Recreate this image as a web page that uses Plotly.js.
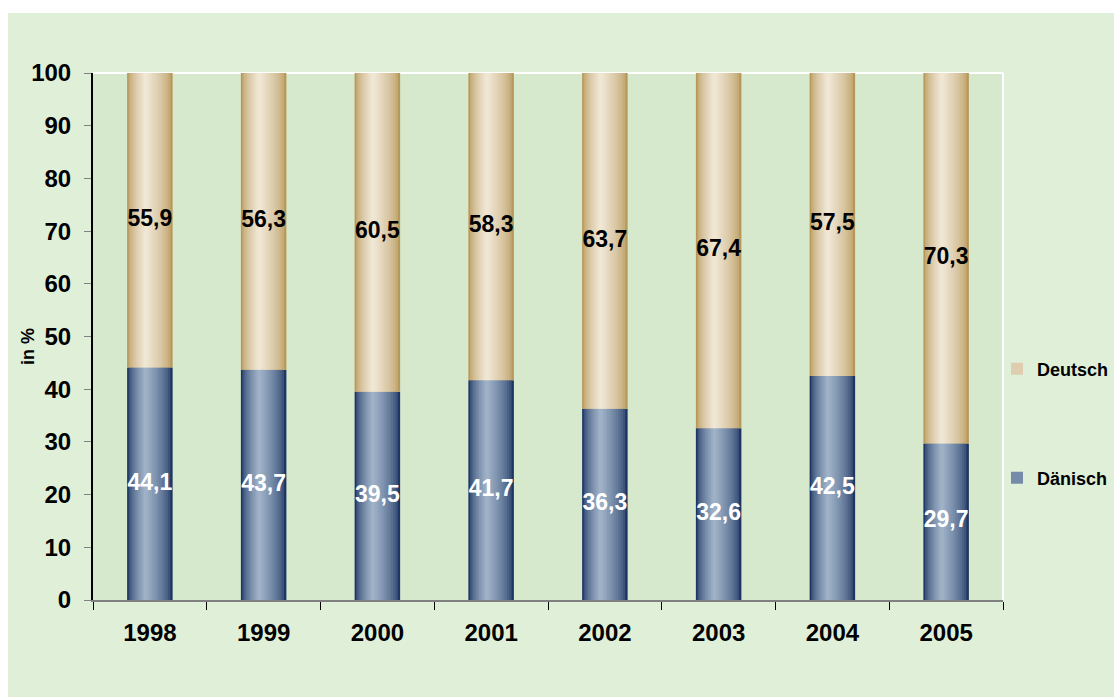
<!DOCTYPE html>
<html>
<head>
<meta charset="utf-8">
<script src="https://cdn.plot.ly/plotly-3.0.1.min.js"></script>
<style>
html,body{margin:0;padding:0;background:#ffffff;}
#chart{position:absolute;left:8px;top:13px;width:1106px;height:684px;}
</style>
</head>
<body>
<div id="chart"></div>
<script>
// ---- data ----
const years = ['1998','1999','2000','2001','2002','2003','2004','2005'];
const danisch = [44.1, 43.7, 39.5, 41.7, 36.3, 32.6, 42.5, 29.7];
const deutsch = [55.9, 56.3, 60.5, 58.3, 63.7, 67.4, 57.5, 70.3];
const yTickVals = [0,10,20,30,40,50,60,70,80,90,100];
const seriesNames = ['Dänisch', 'Deutsch'];
const yTitle = 'in %';

// ---- styling helpers ----
const FONT = 'Arial, "Liberation Sans", sans-serif';
function hex2rgb(h){h=h.replace('#','');return [parseInt(h.slice(0,2),16),parseInt(h.slice(2,4),16),parseInt(h.slice(4,6),16)];}
function mix(a,b,t){const A=hex2rgb(a),B=hex2rgb(b);return 'rgb('+A.map((v,i)=>Math.round(v+(B[i]-v)*t)).join(',')+')';}
const danDark='#1c3562', danLight='#9eb1c7';
const deuDark='#b8985a', deuLight='#efe6d4';
const fmt = v => v.toFixed(1).replace('.', ',');

const BAR_W = 0.4, K = 12, PEAK = -0.04;
const traces = [];
for (let k = 0; k < K; k++) {
  const f = k / K;
  const half = (BAR_W/2) * (1 - f);
  const center = PEAK * f;
  const t = Math.pow(k/(K-1), 0.6);
  const legendLayer = (k === 6);
  traces.push({
    type:'bar', x: years, y: danisch, base: years.map(()=>0),
    width: years.map(()=>2*half), offset: years.map(()=>center-half),
    marker:{color: mix(danDark, danLight, t), line:{width:0}},
    name: seriesNames[0], showlegend: legendLayer, legend:'legend2',
    hoverinfo:'skip'
  });
  traces.push({
    type:'bar', x: years, y: deutsch, base: danisch,
    width: years.map(()=>2*half), offset: years.map(()=>center-half),
    marker:{color: mix(deuDark, deuLight, t), line:{width:0}},
    name: seriesNames[1], showlegend: legendLayer, legend:'legend',
    hoverinfo:'skip'
  });
}
// value labels
traces.push({
  type:'scatter', mode:'text', x: years, y: danisch.map(v=>v/2),
  text: danisch.map(fmt), textposition:'middle center',
  textfont:{family:FONT, size:23, color:'#ffffff', weight:'bold'},
  showlegend:false, hoverinfo:'skip', cliponaxis:false
});
traces.push({
  type:'scatter', mode:'text', x: years, y: danisch.map((v,i)=>v+deutsch[i]/2),
  text: deutsch.map(fmt), textposition:'middle center',
  textfont:{family:FONT, size:23, color:'#000000', weight:'bold'},
  showlegend:false, hoverinfo:'skip', cliponaxis:false
});

const layout = {
  width:1106, height:684,
  margin:{l:85, r:111, t:60, b:97, autoexpand:false},
  paper_bgcolor:'#dfefd8',
  plot_bgcolor:'#d6e9cd',
  barmode:'overlay',
  font:{family:FONT, color:'#000000'},
  xaxis:{
    type:'category', range:[-0.5, 7.5], fixedrange:true,
    showline:true, linecolor:'#808080', linewidth:2,
    ticks:'outside', tickson:'boundaries', ticklen:8, tickcolor:'#000000', tickwidth:1,
    tickfont:{family:FONT, size:24, weight:'bold', color:'#000000'},
    ticklabelstandoff:10, showgrid:false, zeroline:false
  },
  yaxis:{
    range:[0,100], tickvals: yTickVals, ticktext: yTickVals.map(String),
    showline:true, linecolor:'#000000', linewidth:2,
    ticks:'outside', ticklen:7, tickcolor:'#808080', tickwidth:1,
    tickfont:{family:FONT, size:24, weight:'bold', color:'#000000'},
    ticklabelstandoff:8, showgrid:false, zeroline:false
  },
  annotations:[
    {text: yTitle, xref:'paper', yref:'paper', x:-0.0714, y:0.48, xanchor:'center', yanchor:'middle',
     textangle:-90, showarrow:false, font:{family:FONT, size:18, weight:'bold', color:'#000000'}}
  ],
  shapes:[
    {type:'line', xref:'paper', yref:'paper', x0:0, x1:1, y0:1, y1:1, line:{color:'#ffffff', width:2}, layer:'below'},
    {type:'line', xref:'paper', yref:'paper', x0:1, x1:1, y0:0, y1:1, line:{color:'#ffffff', width:2}, layer:'below'}
  ],
  legend:{x:0.9934, xanchor:'left', y:0.438, yanchor:'middle', bgcolor:'rgba(0,0,0,0)',
    font:{family:FONT, size:18, weight:'bold'}, itemwidth:30},
  legend2:{x:0.9934, xanchor:'left', y:0.2315, yanchor:'middle', bgcolor:'rgba(0,0,0,0)',
    font:{family:FONT, size:18, weight:'bold'}, itemwidth:30},
  showlegend:true
};

Plotly.newPlot('chart', traces, layout, {displayModeBar:false, staticPlot:true});
</script>
</body>
</html>
